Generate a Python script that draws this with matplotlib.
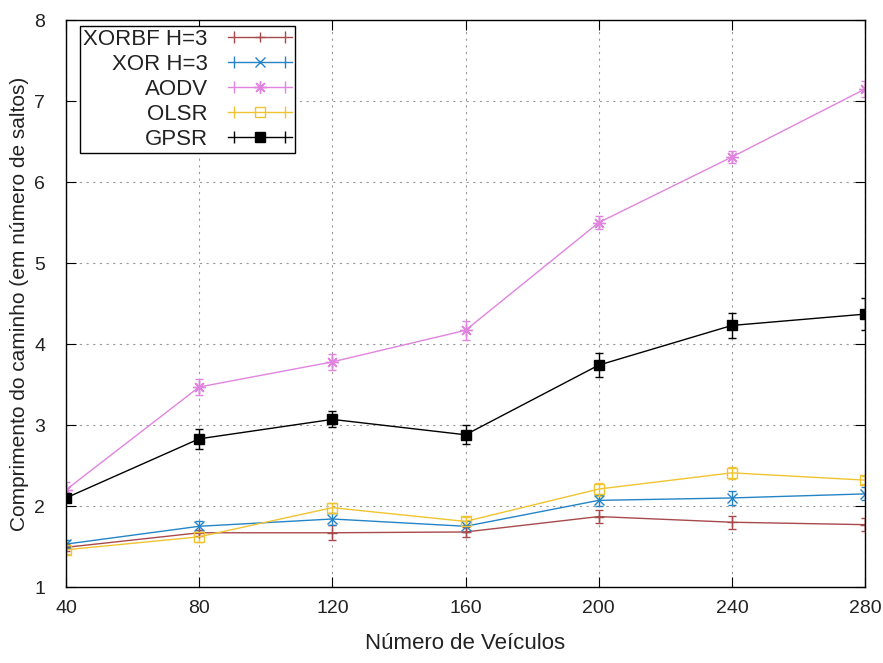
import matplotlib
matplotlib.use('Agg')
import matplotlib.pyplot as plt
from matplotlib.lines import Line2D
from matplotlib.legend_handler import HandlerLine2D, HandlerTuple

plt.rcParams['font.family'] = ['Liberation Sans', 'DejaVu Sans']

veiculos = [40, 80, 120, 160, 200, 240, 280]

xorbf = [1.49, 1.67, 1.67, 1.68, 1.87, 1.80, 1.77]
xorbf_err = [0.04, 0.04, 0.09, 0.06, 0.08, 0.08, 0.08]
xor = [1.53, 1.75, 1.84, 1.75, 2.07, 2.10, 2.15]
xor_err = [0.05, 0.07, 0.07, 0.07, 0.07, 0.09, 0.08]
aodv = [2.20, 3.47, 3.78, 4.17, 5.50, 6.31, 7.15]
aodv_err = [0.10, 0.10, 0.10, 0.12, 0.08, 0.08, 0.10]
olsr = [1.46, 1.62, 1.98, 1.81, 2.21, 2.41, 2.32]
olsr_err = [0.05, 0.06, 0.06, 0.05, 0.08, 0.07, 0.05]
gpsr = [2.10, 2.83, 3.07, 2.88, 3.74, 4.23, 4.37]
gpsr_err = [0.05, 0.12, 0.10, 0.12, 0.15, 0.15, 0.20]

fig = plt.figure(figsize=(8.83, 6.63), dpi=100)
ax = fig.add_axes([0.0747, 0.1146, 0.905, 0.855])

series = [
    ('XORBF H=3', xorbf, xorbf_err, '#a84a4c', '+', 'none', 7),
    ('XOR H=3', xor, xor_err, '#2484c6', 'x', 'none', 7),
    ('AODV', aodv, aodv_err, '#e084e0', (8, 2, 0), 'none', 9),
    ('OLSR', olsr, olsr_err, '#f0c430', 's', 'none', 7),
    ('GPSR', gpsr, gpsr_err, 'black', 's', 'black', 7),
]

handles = []
hmap = {}
for nome, y, e, cor, mk, mfc, ms in series:
    ax.errorbar(veiculos, y, yerr=e, color=cor, marker=mk,
                markerfacecolor=mfc, markeredgecolor=cor, markersize=ms,
                linewidth=1.0, elinewidth=1.0, capsize=3, capthick=1.0)
    # legenda no estilo gnuplot: barra horizontal com marcador no centro
    linha = Line2D([], [], color=cor, marker=mk, markerfacecolor=mfc,
                   markeredgecolor=cor, markersize=ms, linewidth=1.0)
    caps = Line2D([], [], color=cor, marker='|', markersize=8, linestyle='none',
                  markeredgewidth=1.0)
    hmap[caps] = HandlerLine2D(numpoints=2)
    handles.append((linha, caps))
hmap[tuple] = HandlerTuple(ndivide=1)

ax.set_xlim(40, 280)
ax.set_ylim(1, 8)
ax.set_xticks(veiculos)
ax.set_yticks(range(1, 9))
ax.grid(True, linestyle=(0, (2, 4)), color='#999999', linewidth=0.8)
ax.tick_params(direction='in', top=True, right=True, labelsize=14, length=7,
               labelcolor='#222222')
ax.tick_params(axis='x', pad=9)
ax.tick_params(axis='y', pad=15)
for s in ax.spines.values():
    s.set_linewidth(1.0)

ax.set_xlabel('Número de Veículos', fontsize=16, labelpad=12, color='#222222')
ax.set_ylabel('Comprimento do caminho (em número de saltos)', fontsize=15,
              labelpad=4, color='#222222')

leg = ax.legend(handles, [s[0] for s in series], handler_map=hmap,
                loc='upper left', bbox_to_anchor=(0.0175, 0.99), markerfirst=False,
                fontsize=16, fancybox=False, edgecolor='black', framealpha=1,
                handlelength=2.9, borderpad=0.15, labelspacing=0.18, handletextpad=0.9,
                borderaxespad=0, labelcolor='#222222')
leg.get_frame().set_linewidth(1.0)
leg._legend_box.align = 'right'

fig.savefig('out.png', dpi=100)
